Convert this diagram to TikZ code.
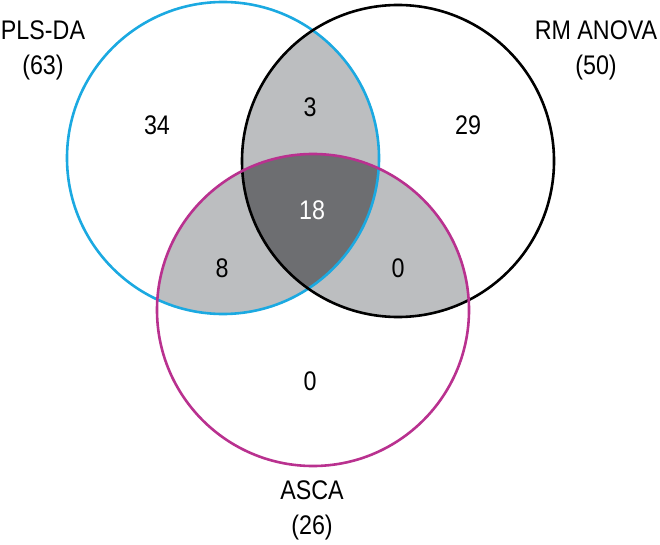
\documentclass[tikz,border=0pt]{standalone}
\usepackage{fontspec}
\setmainfont{Liberation Sans}
\usetikzlibrary{positioning}
\definecolor{plsblue}{HTML}{1BA9E1}
\definecolor{ascapink}{HTML}{B9318F}
\definecolor{pairgray}{HTML}{BCBEC0}
\definecolor{coregray}{HTML}{6D6E71}
\newcommand{\tall}[1]{\scalebox{0.97}[1.12]{#1}}
\begin{document}
\begin{tikzpicture}[x=1pt, y=-1pt,
  set/.style={draw, circle, line width=2.6pt, minimum size=312pt, inner sep=0pt},
  count/.style={font=\fontsize{24}{28}\selectfont},
  title/.style={align=center, font=\fontsize{24}{35}\selectfont}]
  \useasboundingbox (0,0) rectangle (660,545);
  \coordinate (cpls) at (223,158);
  \coordinate (crm) at (398,161);
  \coordinate (casca) at (313,310);

  % shaded overlaps
  \begin{scope}
    \clip (cpls) circle (156pt);
    \fill[pairgray] (crm) circle (156pt);
    \fill[pairgray] (casca) circle (156pt);
  \end{scope}
  \begin{scope}
    \clip (crm) circle (156pt);
    \fill[pairgray] (casca) circle (156pt);
  \end{scope}
  \begin{scope}
    \clip (cpls) circle (156pt);
    \clip (crm) circle (156pt);
    \fill[coregray] (casca) circle (156pt);
  \end{scope}

  % the three sets
  \node[set, draw=plsblue] (pls) at (cpls) {};
  \node[set, draw=black] (rm) at (crm) {};
  \node[set, draw=ascapink] (asca) at (casca) {};

  \node[title] (plslab) at (43,50) {\tall{PLS-DA}\\\tall{(63)}};
  \node[title] (rmlab) at (596,50) {\tall{RM ANOVA}\\\tall{(50)}};
  \node[title] (ascalab) at (312,510) {\tall{ASCA}\\\tall{(26)}};

  \node[count] (onlypls) at (157,125) {\tall{34}};
  \node[count] (plsrm) at (310,107) {\tall{3}};
  \node[count, text=white] (all) at (312,210) {\tall{18}};
  \node[count] (onlyrm) at (468,125) {\tall{29}};
  \node[count] (plsasca) at (222,268) {\tall{8}};
  \node[count] (rmasca) at (398,268) {\tall{0}};
  \node[count] (onlyasca) at (310,381) {\tall{0}};
\end{tikzpicture}
\end{document}
